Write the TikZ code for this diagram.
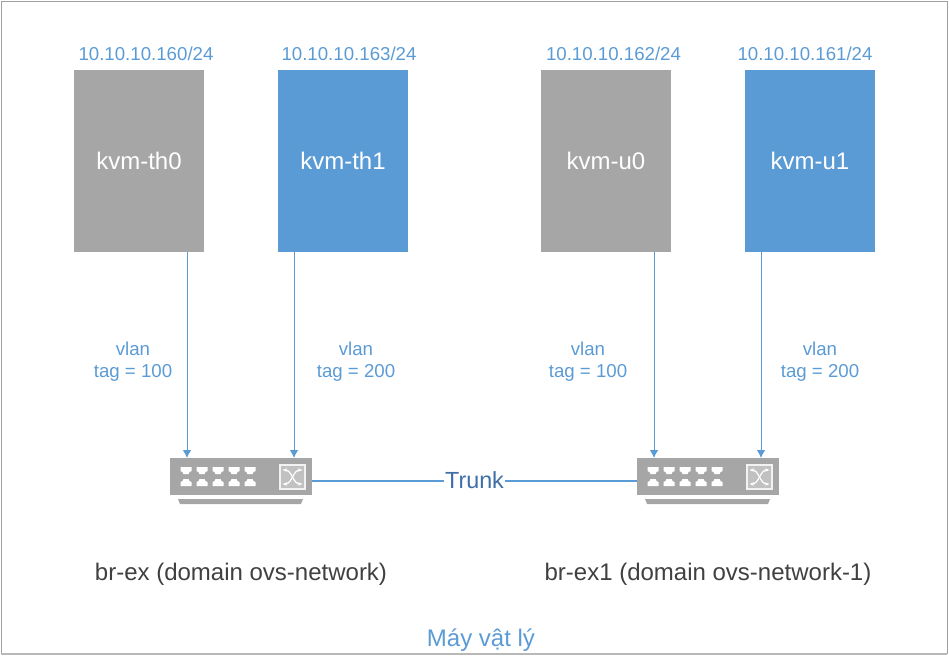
\documentclass[tikz,border=0pt]{standalone}
\usepackage{fontspec}
\setmainfont{Liberation Sans}
\usetikzlibrary{arrows.meta}
\definecolor{vmgray}{HTML}{A6A6A6}
\definecolor{vmblue}{HTML}{5B9BD5}
\definecolor{trunkblue}{HTML}{3F6FA5}
\definecolor{textgray}{HTML}{404040}
\definecolor{framegray}{HTML}{A0A0A0}

\begin{document}
\begin{tikzpicture}[x=0.75pt,y=-0.75pt]
        % Define styles
        \tikzset{
            vmgrey/.style={rectangle, fill=vmgray, text=white, inner sep=0pt, minimum width=97.5pt, minimum height=136.5pt, font=\fontsize{18}{20}\selectfont},
            vmblu/.style={vmgrey, fill=vmblue},
            switch/.style={rectangle, fill=vmgray, inner sep=0pt, minimum width=106.5pt, minimum height=27.75pt},
            addr/.style={text=vmblue, font=\fontsize{14}{16}\selectfont},
            tag/.style={text=vmblue, align=center, font=\fontsize{14}{16.5}\selectfont},
            caption/.style={text=textgray, font=\fontsize{18}{20}\selectfont},
            arrow/.style={-{Latex[length=6pt,width=6.5pt]},draw=vmblue,line width=0.75pt},
            trunk/.style={draw=vmblue,line width=0.9pt}
        }
        \useasboundingbox (0,0) rectangle (949,664);

        % Frame
        \draw[framegray, line width=0.75pt] (1,1.5) -- (947,1.5) -- (947,653.5) -- (1,653.5) -- cycle;
        \draw[vmgray!80, line width=1.5pt] (1,654) -- (947,654);

        % Nodes
        \node[addr] (addr_node_0) at (146,54) {10.10.10.160/24};
        \node[addr] (addr_node_1) at (349,54) {10.10.10.163/24};
        \node[addr] (addr_node_2) at (613.5,54) {10.10.10.162/24};
        \node[addr] (addr_node_3) at (805,54) {10.10.10.161/24};

        \node[vmgrey] (vm_node_0) at (139,161) {kvm-th0};
        \node[vmblu] (vm_node_1) at (343,161) {kvm-th1};
        \node[vmgrey] (vm_node_2) at (606,161) {kvm-u0};
        \node[vmblu] (vm_node_3) at (810,161) {kvm-u1};

        \node[tag] (tag_node_0) at (133,362) {vlan\\tag = 100};
        \node[tag] (tag_node_1) at (356,362) {vlan\\tag = 200};
        \node[tag] (tag_node_2) at (588,362) {vlan\\tag = 100};
        \node[tag] (tag_node_3) at (820,362) {vlan\\tag = 200};

        \node[switch] (switch_node_0) at (241,476.5) {};
        \node[switch] (switch_node_1) at (708,476.5) {};

        \node[caption] (caption_node_0) at (241,574) {br-ex (domain ovs-network)};
        \node[caption] (caption_node_1) at (708,574) {br-ex1 (domain ovs-network-1)};
        \node[text=vmblue, font=\fontsize{18}{20}\selectfont] (host_node) at (481,640) {Máy vật lý};

        % Switch details
        \foreach \sx in {0,467} {
            \begin{scope}[shift={(\sx,0)}]
                \fill[vmgray] (178,499) -- (303,499) -- (301,504) -- (180,504) -- cycle;
                \foreach \px in {180.5,196.5,212.5,228.5,244.5} {
                    \fill[white] (\px,467) -- (\px+11,467) -- (\px+11,471) -- (\px+9,472) -- (\px+8,474) -- (\px+3,474) -- (\px+2,472) -- (\px,471) -- cycle;
                    \fill[white] (\px,486) -- (\px+11,486) -- (\px+11,482) -- (\px+9,481) -- (\px+8,479) -- (\px+3,479) -- (\px+2,481) -- (\px,482) -- cycle;
                }
                \draw[white!85!vmgray, fill=vmgray!70!white, line width=1pt] (280,465) rectangle (305,489);
                \draw[white, line width=0.9pt, {Stealth[length=3.5pt]}-{Stealth[length=3.5pt]}] (282.5,470) .. controls (292,470) and (293,484) .. (302.5,484);
                \draw[white, line width=0.9pt, {Stealth[length=3.5pt]}-{Stealth[length=3.5pt]}] (282.5,484) .. controls (292,484) and (293,470) .. (302.5,470);
            \end{scope}
        }

        % Arrows
        \coordinate (port_0) at (187,458);
        \coordinate (port_1) at (294,458);
        \coordinate (port_2) at (654,458);
        \coordinate (port_3) at (761,458);
        \draw[arrow] (vm_node_0.south -| port_0) -- (port_0);
        \draw[arrow] (vm_node_1.south -| port_1) -- (port_1);
        \draw[arrow] (vm_node_2.south -| port_2) -- (port_2);
        \draw[arrow] (vm_node_3.south -| port_3) -- (port_3);

        \draw[trunk] ([yshift=-3.4pt]switch_node_0.east) -- node[fill=white, inner sep=1pt, text=trunkblue, font=\fontsize{17.5}{20}\selectfont, yshift=1pt] (trunk_node) {Trunk} ([yshift=-3.4pt]switch_node_1.west);
    \end{tikzpicture}
\end{document}
